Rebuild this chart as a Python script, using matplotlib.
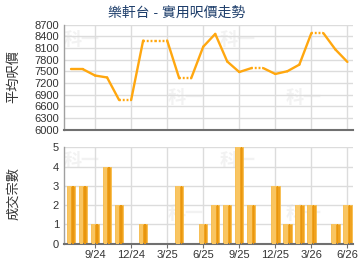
import matplotlib
matplotlib.use('Agg')
import matplotlib.pyplot as plt
import numpy as np

plt.rcParams['font.family'] = ['Liberation Sans', 'Noto Sans CJK TC', 'DejaVu Sans']

# Datos mensuales 7/24 - 6/26 (None = mes sin transacciones)
months = ['7/24', '8/24', '9/24', '10/24', '11/24', '12/24', '1/25', '2/25', '3/25', '4/25',
          '5/25', '6/25', '7/25', '8/25', '9/25', '10/25', '11/25', '12/25', '1/26', '2/26',
          '3/26', '4/26', '5/26', '6/26']
price = [7550, 7550, 7390, 7340, 6760, None, 8290, None, None, 7320, None, 8130,
         8460, 7750, 7480, 7580, None, 7430, 7500, 7670, 8480, None, 8060, 7740]
deals = [3, 3, 1, 4, 2, 0, 1, 0, 0, 3, 0, 1, 2, 2, 5, 2, 0, 3, 1, 2, 2, 0, 1, 2]
tick_labels = ['9/24', '12/24', '3/25', '6/25', '9/25', '12/25', '3/26', '6/26']
price_ticks = [6000, 6300, 6600, 6900, 7200, 7500, 7800, 8100, 8400, 8700]
deal_ticks = [0, 1, 2, 3, 4, 5]

title = '樂軒台 - 實用呎價走勢'
ylabel_top = '平均呎價'
ylabel_bot = '成交宗數'

orange = '#FFA70F'
grid_c = '#DCDCDC'
text_c = '#333333'

x = np.arange(len(months))
tick_pos = [months.index(t) for t in tick_labels]

# valores arrastrados para meses vacios
filled = []
last = None
for p in price:
    if p is not None:
        last = p
    filled.append(last)

fig = plt.figure(figsize=(3.6, 2.7), dpi=100)
ax1 = fig.add_axes([0.179, 0.520, 0.801, 0.389])
ax2 = fig.add_axes([0.179, 0.098, 0.801, 0.356])

for ax in (ax1, ax2):
    ax.set_xlim(-0.55, 23.45)
    ax.set_xticks(tick_pos)
    ax.grid(True, color=grid_c, linewidth=1)
    ax.set_axisbelow(True)
    for s in ('top', 'right'):
        ax.spines[s].set_visible(False)
    ax.spines['left'].set_color('#A0A0A0')
    ax.spines['left'].set_linewidth(1)
    ax.spines['bottom'].set_color('#707070')
    ax.spines['bottom'].set_linewidth(1.5)
    ax.tick_params(axis='y', length=0, pad=4, labelsize=8, labelcolor=text_c)
    ax.tick_params(axis='x', length=3, color='#707070', labelsize=8, labelcolor=text_c, pad=2)
    # marca de agua
    for wx, wy in ((0.06, 0.85), (0.42, 0.3), (0.6, 0.85), (0.83, 0.3)):
        ax.text(wx, wy, '科一', transform=ax.transAxes, fontsize=13, fontweight='bold',
                color='#F2F2F2', ha='center', va='center', zorder=0)

# linea de precios
for i in range(1, len(x)):
    seg_x = [x[i - 1], x[i]]
    seg_y = [filled[i - 1], filled[i]]
    if price[i] is None:
        ax1.plot(seg_x, seg_y, color=orange, linewidth=1.7, linestyle=(0, (0.8, 0.8)))
    else:
        ax1.plot(seg_x, seg_y, color=orange, linewidth=1.7, solid_capstyle='round')
ax1.set_ylim(6000, 8700)
ax1.set_yticks(price_ticks)
ax1.set_xticklabels([])
ax1.tick_params(axis='x', length=0)

# barras de transacciones (degradado simple con franjas)
ax2.bar(x, deals, width=0.7, color='#F0A21E', edgecolor='#F7BE4E', linewidth=0.6, zorder=2)
ax2.bar(x - 0.12, deals, width=0.3, color='#F9C561', linewidth=0, zorder=3)
ax2.bar(x + 0.17, deals, width=0.12, color='#E8960F', linewidth=0, zorder=3)
ax2.set_ylim(0, 5)
ax2.set_yticks(deal_ticks)
ax2.set_xticklabels(tick_labels)

fig.text(0.492, 0.951, title, ha='center', va='center', fontsize=10, color='#1E3E6B')
fig.text(0.039, 0.715, ylabel_top, rotation=90, ha='center', va='center', fontsize=9.5, color=text_c)
fig.text(0.039, 0.285, ylabel_bot, rotation=90, ha='center', va='center', fontsize=9.5, color=text_c)

fig.savefig('out.png', dpi=100)
